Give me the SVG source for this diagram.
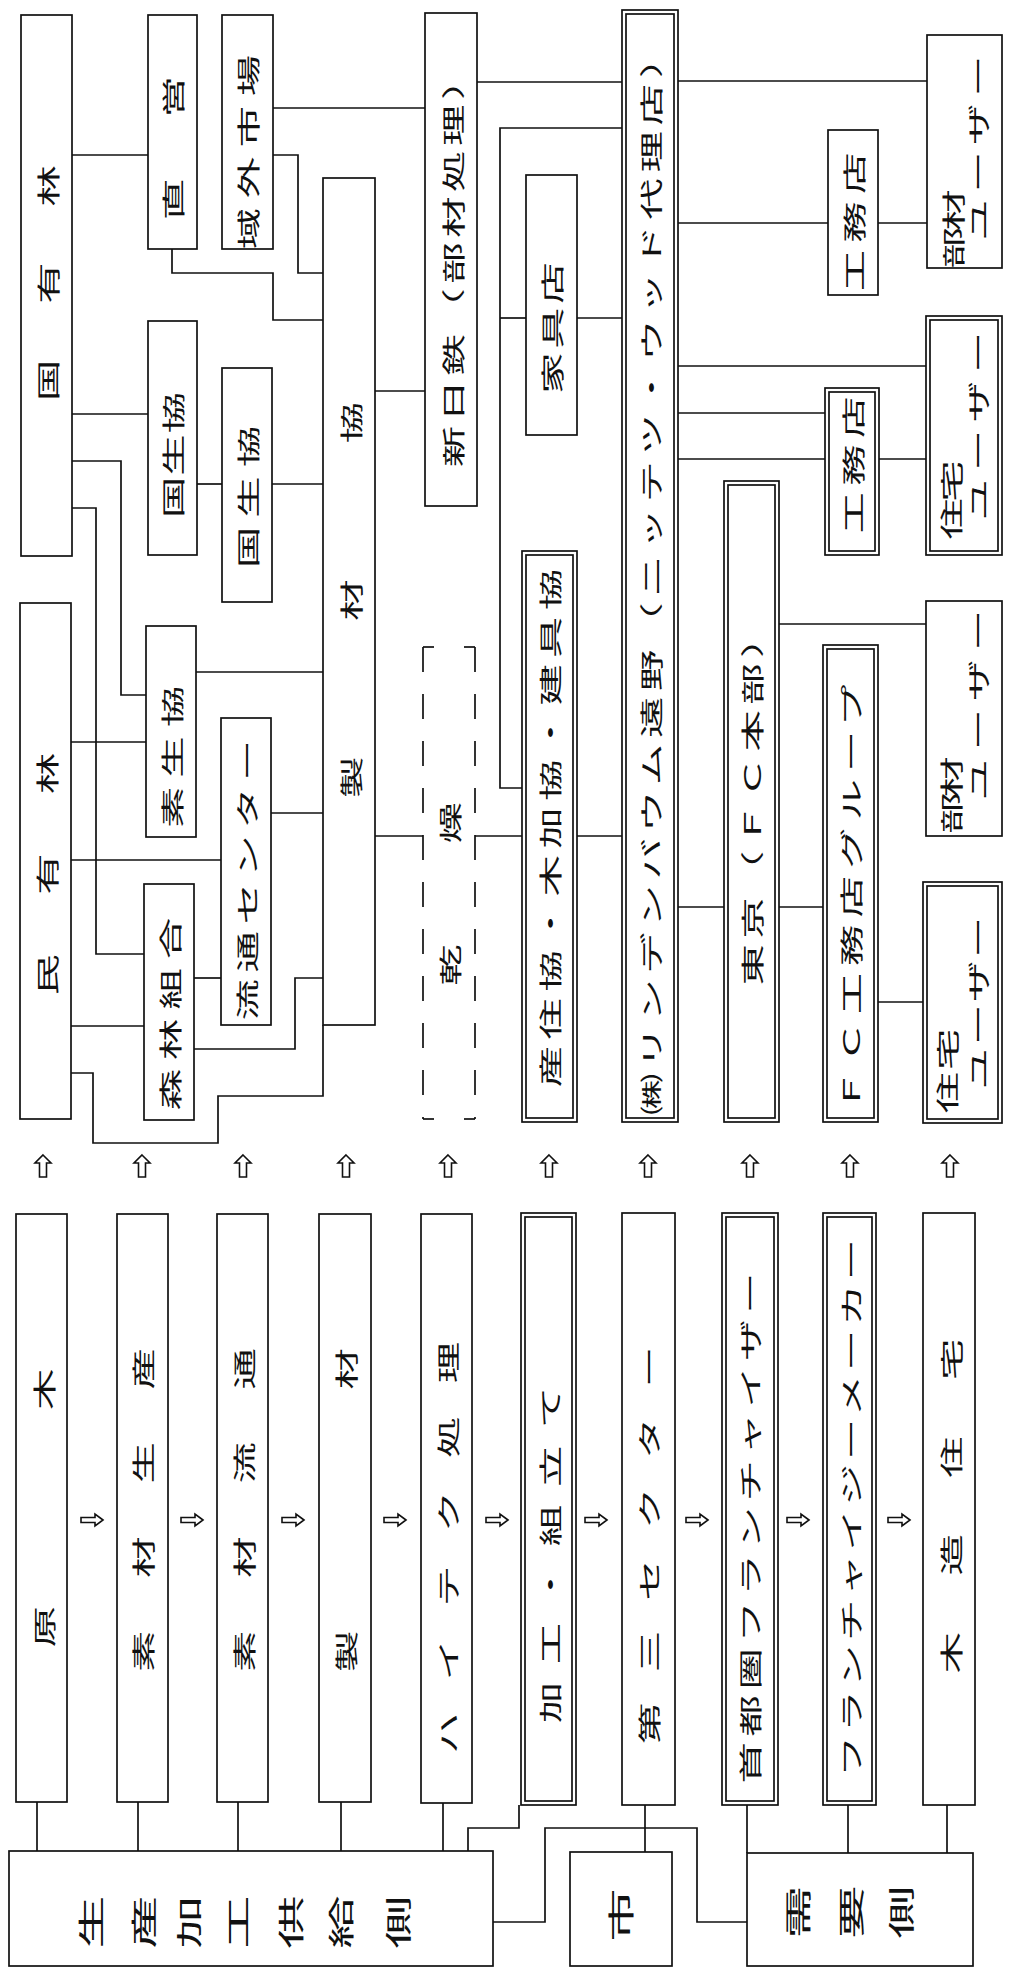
<svg xmlns="http://www.w3.org/2000/svg" xmlns:xlink="http://www.w3.org/1999/xlink" width="1009" height="1969" viewBox="0 0 1009 1969">
<style>
.b{fill:#fff;stroke:#111;stroke-width:1.7}
.c{fill:none;stroke:#111;stroke-width:1.7}
.d{fill:none;stroke:#111;stroke-width:1.7;stroke-dasharray:25 22}
.a{fill:#fff;stroke:#111;stroke-width:1.6;stroke-linejoin:miter}
.t{font-family:"Noto Sans CJK JP","Noto Sans CJK SC",sans-serif;font-size:23px;fill:#111;text-anchor:middle;dominant-baseline:central}
.u{font-size:26px}
</style>
<defs>
<path id="au" class="a" d="M0,-11 L8,-3 L3.5,-3 L3.5,11 L-3.5,11 L-3.5,-3 L-8,-3 Z"/>
<path id="ar" class="a" d="M11,0 L3,-6 L3,-2.5 L-11,-2.5 L-11,2.5 L3,2.5 L3,6 Z"/>
</defs>
<rect width="1009" height="1969" fill="#fff"/>

<g id="connectors">
<polyline class="c" points="72,155 148,155"/>
<polyline class="c" points="172,249 172,273 273,273 273,320 323,320"/>
<polyline class="c" points="273,108 425,108"/>
<polyline class="c" points="273,155 298,155 298,273 323,273"/>
<polyline class="c" points="72,414 148,414"/>
<polyline class="c" points="72,461 121,461 121,695 146,695"/>
<polyline class="c" points="197,484 222,484"/>
<polyline class="c" points="272,484 323,484"/>
<polyline class="c" points="375,391 425,391"/>
<polyline class="c" points="72,508 96,508 96,954 144,954"/>
<polyline class="c" points="196,672 323,672"/>
<polyline class="c" points="71,742 146,742"/>
<polyline class="c" points="71,860 221,860"/>
<polyline class="c" points="271,813 323,813"/>
<polyline class="c" points="194,978 221,978"/>
<polyline class="c" points="71,1026 144,1026"/>
<polyline class="c" points="194,1049 295,1049 295,978 323,978"/>
<polyline class="c" points="71,1073 93,1073 93,1143 218,1143 218,1096 323,1096 323,1025"/>
<polyline class="c" points="477,82 622,82"/>
<polyline class="c" points="375,836 423,836"/>
<polyline class="c" points="475,836 522,836"/>
<polyline class="c" points="522,788 500,788 500,128 622,128"/>
<polyline class="c" points="500,318 526,318"/>
<polyline class="c" points="577,318 622,318"/>
<polyline class="c" points="577,836 622,836"/>
<polyline class="c" points="678,81 927,81"/>
<polyline class="c" points="678,223 828,223"/>
<polyline class="c" points="878,223 927,223"/>
<polyline class="c" points="678,366 926,366"/>
<polyline class="c" points="678,413 825,413"/>
<polyline class="c" points="678,459 825,459"/>
<polyline class="c" points="879,459 926,459"/>
<polyline class="c" points="678,907 724,907"/>
<polyline class="c" points="779,907 823,907"/>
<polyline class="c" points="779,624 926,624"/>
<polyline class="c" points="878,1002 923,1002"/>
<polyline class="c" points="37,1802 37,1851"/>
<polyline class="c" points="138,1802 138,1851"/>
<polyline class="c" points="238,1802 238,1851"/>
<polyline class="c" points="341,1802 341,1851"/>
<polyline class="c" points="443,1803 443,1851"/>
<polyline class="c" points="519,1805 519,1828 468,1828 468,1851"/>
<polyline class="c" points="645,1805 645,1852"/>
<polyline class="c" points="493,1922 545,1922 545,1828 697,1828 697,1922 747,1922"/>
<polyline class="c" points="747,1805 747,1853"/>
<polyline class="c" points="848,1805 848,1853"/>
<polyline class="c" points="947,1805 947,1853"/>
</g>

<g id="arrows">
<use xlink:href="#au" x="43" y="1166"/>
<use xlink:href="#au" x="142" y="1166"/>
<use xlink:href="#au" x="243" y="1166"/>
<use xlink:href="#au" x="346" y="1166"/>
<use xlink:href="#au" x="448" y="1166"/>
<use xlink:href="#au" x="549" y="1166"/>
<use xlink:href="#au" x="648" y="1166"/>
<use xlink:href="#au" x="750" y="1166"/>
<use xlink:href="#au" x="850" y="1166"/>
<use xlink:href="#au" x="950" y="1166"/>
<use xlink:href="#ar" x="92" y="1520"/>
<use xlink:href="#ar" x="192" y="1520"/>
<use xlink:href="#ar" x="293" y="1520"/>
<use xlink:href="#ar" x="395" y="1520"/>
<use xlink:href="#ar" x="497" y="1520"/>
<use xlink:href="#ar" x="596" y="1520"/>
<use xlink:href="#ar" x="697" y="1520"/>
<use xlink:href="#ar" x="798" y="1520"/>
<use xlink:href="#ar" x="899" y="1520"/>
</g>

<g id="kokuyurin"><rect class="b" x="21" y="15" width="51" height="541"/>
<text class="t" transform="translate(47,283) rotate(-90) scale(1.8,1)" textLength="131" lengthAdjust="spacing">国有林</text></g>
<g id="minyurin"><rect class="b" x="20" y="603" width="51" height="516"/>
<text class="t" transform="translate(46,874) rotate(-90) scale(1.8,1)" textLength="135" lengthAdjust="spacing">民有林</text></g>
<g id="chokuei"><rect class="b" x="148" y="15" width="49" height="234"/>
<text class="t" transform="translate(172,148) rotate(-90) scale(1.8,1)" textLength="80" lengthAdjust="spacing">直営</text></g>
<g id="kokuseikyo1"><rect class="b" x="148" y="321" width="49" height="234"/>
<text class="t" transform="translate(172,455) rotate(-90) scale(1.8,1)" textLength="70" lengthAdjust="spacing">国生協</text></g>
<g id="soseikyo"><rect class="b" x="146" y="626" width="50" height="211"/>
<text class="t" transform="translate(171,757) rotate(-90) scale(1.8,1)" textLength="79" lengthAdjust="spacing">素生協</text></g>
<g id="shinrinkumiai"><rect class="b" x="144" y="884" width="50" height="236"/>
<text class="t" transform="translate(169,1014) rotate(-90) scale(1.8,1)" textLength="107" lengthAdjust="spacing">森林組合</text></g>
<g id="ikigaishijo"><rect class="b" x="222" y="15" width="51" height="234"/>
<text class="t" transform="translate(247,152) rotate(-90) scale(1.8,1)" textLength="108" lengthAdjust="spacing">域外市場</text></g>
<g id="kokuseikyo2"><rect class="b" x="222" y="368" width="50" height="234"/>
<text class="t" transform="translate(247,497) rotate(-90) scale(1.8,1)" textLength="79" lengthAdjust="spacing">国生協</text></g>
<g id="ryutsucenter"><rect class="b" x="221" y="718" width="50" height="307"/>
<text class="t" transform="translate(246,880) rotate(-90) scale(1.8,1)" textLength="156" lengthAdjust="spacing">流通センター</text></g>
<g id="seizaikyo"><rect class="b" x="323" y="178" width="52" height="847"/>
<text class="t" transform="translate(350,600) rotate(-90) scale(1.8,1)" textLength="220" lengthAdjust="spacing">製材協</text></g>
<g id="shinnittetsu"><rect class="b" x="425" y="13" width="52" height="493"/>
<text class="t" transform="translate(452,263) rotate(-90) scale(1.8,1)" textLength="227" lengthAdjust="spacing">新日鉄（部材処理）</text></g>
<g id="kanso">
<polyline class="d" points="423,647 423,1119"/>
<polyline class="d" points="475,647 475,1119"/>
<polyline class="c" points="434,647 423,647"/>
<polyline class="c" points="464,647 475,647"/>
<polyline class="c" points="434,1119 423,1119"/>
<polyline class="c" points="464,1119 475,1119"/>
<text class="t" transform="translate(449,894) rotate(-90) scale(1.8,1)" textLength="102" lengthAdjust="spacing">乾燥</text></g>
<g id="kaguten"><rect class="b" x="526" y="175" width="51" height="260"/>
<text class="t" transform="translate(551,328) rotate(-90) scale(1.8,1)" textLength="73" lengthAdjust="spacing">家具店</text></g>
<g id="sanjukyo"><rect class="b" x="522" y="551" width="55" height="571"/><rect class="c" x="526" y="555" width="47" height="563"/>
<text class="t" transform="translate(549,828) rotate(-90) scale(1.8,1)" textLength="288" lengthAdjust="spacing">産住協・木加協・建具協</text></g>
<g id="lindenbaum"><rect class="b" x="622" y="10" width="56" height="1112"/><rect class="c" x="626" y="14" width="48" height="1104"/>
<text class="t" transform="translate(650,576) rotate(-90) scale(1.8,1)" textLength="599" lengthAdjust="spacing">㈱リンデンバウム遠野（ニッテツ・ウッド代理店）</text></g>
<g id="tokyo"><rect class="b" x="724" y="481" width="55" height="641"/><rect class="c" x="728" y="485" width="47" height="633"/>
<text class="t" transform="translate(751,801) rotate(-90) scale(1.8,1)" textLength="205" lengthAdjust="spacing">東京（ＦＣ本部）</text></g>
<g id="komuten1"><rect class="b" x="828" y="130" width="50" height="165"/>
<text class="t" transform="translate(853,222) rotate(-90) scale(1.8,1)" textLength="77" lengthAdjust="spacing">工務店</text></g>
<g id="komuten2"><rect class="b" x="825" y="388" width="54" height="167"/><rect class="c" x="829" y="392" width="46" height="159"/>
<text class="t" transform="translate(852,465) rotate(-90) scale(1.8,1)" textLength="76" lengthAdjust="spacing">工務店</text></g>
<g id="fcgroup"><rect class="b" x="823" y="645" width="55" height="477"/><rect class="c" x="827" y="649" width="47" height="469"/>
<text class="t" transform="translate(850,898) rotate(-90) scale(1.8,1)" textLength="237" lengthAdjust="spacing">ＦＣ工務店グループ</text></g>
<g id="buzaiuser1"><rect class="b" x="927" y="35" width="75" height="233"/>
<text class="t" transform="translate(952,229) rotate(-90) scale(1.8,1)" textLength="44" lengthAdjust="spacing">部材</text>
<text class="t" transform="translate(977,148) rotate(-90) scale(1.8,1)" textLength="103" lengthAdjust="spacing">ユーザー</text></g>
<g id="jutakuuser1"><rect class="b" x="926" y="316" width="76" height="239"/><rect class="c" x="930" y="320" width="68" height="231"/>
<text class="t" transform="translate(950,500) rotate(-90) scale(1.8,1)" textLength="44" lengthAdjust="spacing">住宅</text>
<text class="t" transform="translate(977,426) rotate(-90) scale(1.8,1)" textLength="105" lengthAdjust="spacing">ユーザー</text></g>
<g id="buzaiuser2"><rect class="b" x="926" y="601" width="76" height="235"/>
<text class="t" transform="translate(950,795) rotate(-90) scale(1.8,1)" textLength="43" lengthAdjust="spacing">部材</text>
<text class="t" transform="translate(977,705) rotate(-90) scale(1.8,1)" textLength="106" lengthAdjust="spacing">ユーザー</text></g>
<g id="jutakuuser2"><rect class="b" x="923" y="882" width="79" height="241"/><rect class="c" x="927" y="886" width="71" height="233"/>
<text class="t" transform="translate(946,1071) rotate(-90) scale(1.8,1)" textLength="47" lengthAdjust="spacing">住宅</text>
<text class="t" transform="translate(977,1003) rotate(-90) scale(1.8,1)" textLength="96" lengthAdjust="spacing">ユーザー</text></g>

<g id="genboku"><rect class="b" x="16" y="1214" width="51" height="588"/>
<text class="t" transform="translate(43,1508) rotate(-90) scale(1.8,1)" textLength="155" lengthAdjust="spacing">原木</text></g>
<g id="sozaiseisan"><rect class="b" x="117" y="1214" width="51" height="588"/>
<text class="t" transform="translate(142,1510) rotate(-90) scale(1.8,1)" textLength="180" lengthAdjust="spacing">素材生産</text></g>
<g id="sozairyutsu"><rect class="b" x="217" y="1214" width="51" height="588"/>
<text class="t" transform="translate(243,1510) rotate(-90) scale(1.8,1)" textLength="180" lengthAdjust="spacing">素材流通</text></g>
<g id="seizai"><rect class="b" x="319" y="1214" width="52" height="588"/>
<text class="t" transform="translate(345,1510) rotate(-90) scale(1.8,1)" textLength="180" lengthAdjust="spacing">製材</text></g>
<g id="hightech"><rect class="b" x="421" y="1214" width="51" height="589"/>
<text class="t" transform="translate(447,1548) rotate(-90) scale(1.8,1)" textLength="229" lengthAdjust="spacing">ハイテク処理</text></g>
<g id="kakokumitate"><rect class="b" x="521" y="1213" width="55" height="592"/><rect class="c" x="525" y="1217" width="47" height="584"/>
<text class="t" transform="translate(549,1555) rotate(-90) scale(1.8,1)" textLength="187" lengthAdjust="spacing">加工・組立て</text></g>
<g id="daisansector"><rect class="b" x="622" y="1213" width="53" height="592"/>
<text class="t" transform="translate(648,1545) rotate(-90) scale(1.8,1)" textLength="221" lengthAdjust="spacing">第三セクター</text></g>
<g id="franchisor"><rect class="b" x="722" y="1213" width="56" height="592"/><rect class="c" x="726" y="1217" width="48" height="584"/>
<text class="t" transform="translate(749,1528) rotate(-90) scale(1.8,1)" textLength="284" lengthAdjust="spacing">首都圏フランチャイザー</text></g>
<g id="franchisee"><rect class="b" x="823" y="1213" width="53" height="592"/><rect class="c" x="827" y="1217" width="45" height="584"/>
<text class="t" transform="translate(850,1508) rotate(-90) scale(1.8,1)" textLength="299" lengthAdjust="spacing">フランチャイジーメーカー</text></g>
<g id="mokuzojutaku"><rect class="b" x="923" y="1213" width="52" height="592"/>
<text class="t" transform="translate(950,1506) rotate(-90) scale(1.8,1)" textLength="186" lengthAdjust="spacing">木造住宅</text></g>

<g id="supplyside"><rect class="b" x="9" y="1851" width="484" height="115"/>
<text class="t u" transform="translate(90,1922) rotate(-90) scale(2.05,1)">生</text>
<text class="t u" transform="translate(143,1922) rotate(-90) scale(2.05,1)">産</text>
<text class="t u" transform="translate(188,1922) rotate(-90) scale(2.05,1)">加</text>
<text class="t u" transform="translate(237,1922) rotate(-90) scale(2.05,1)">工</text>
<text class="t u" transform="translate(290,1922) rotate(-90) scale(2.05,1)">供</text>
<text class="t u" transform="translate(340,1922) rotate(-90) scale(2.05,1)">給</text>
<text class="t u" transform="translate(397,1922) rotate(-90) scale(2.05,1)">側</text></g>
<g id="city"><rect class="b" x="570" y="1852" width="102" height="114"/>
<text class="t u" transform="translate(620,1915) rotate(-90) scale(2.05,1)">市</text></g>
<g id="demandside"><rect class="b" x="747" y="1853" width="226" height="113"/>
<text class="t u" transform="translate(797,1912) rotate(-90) scale(2.05,1)">需</text>
<text class="t u" transform="translate(850,1912) rotate(-90) scale(2.05,1)">要</text>
<text class="t u" transform="translate(900,1912) rotate(-90) scale(2.05,1)">側</text></g>
</svg>
